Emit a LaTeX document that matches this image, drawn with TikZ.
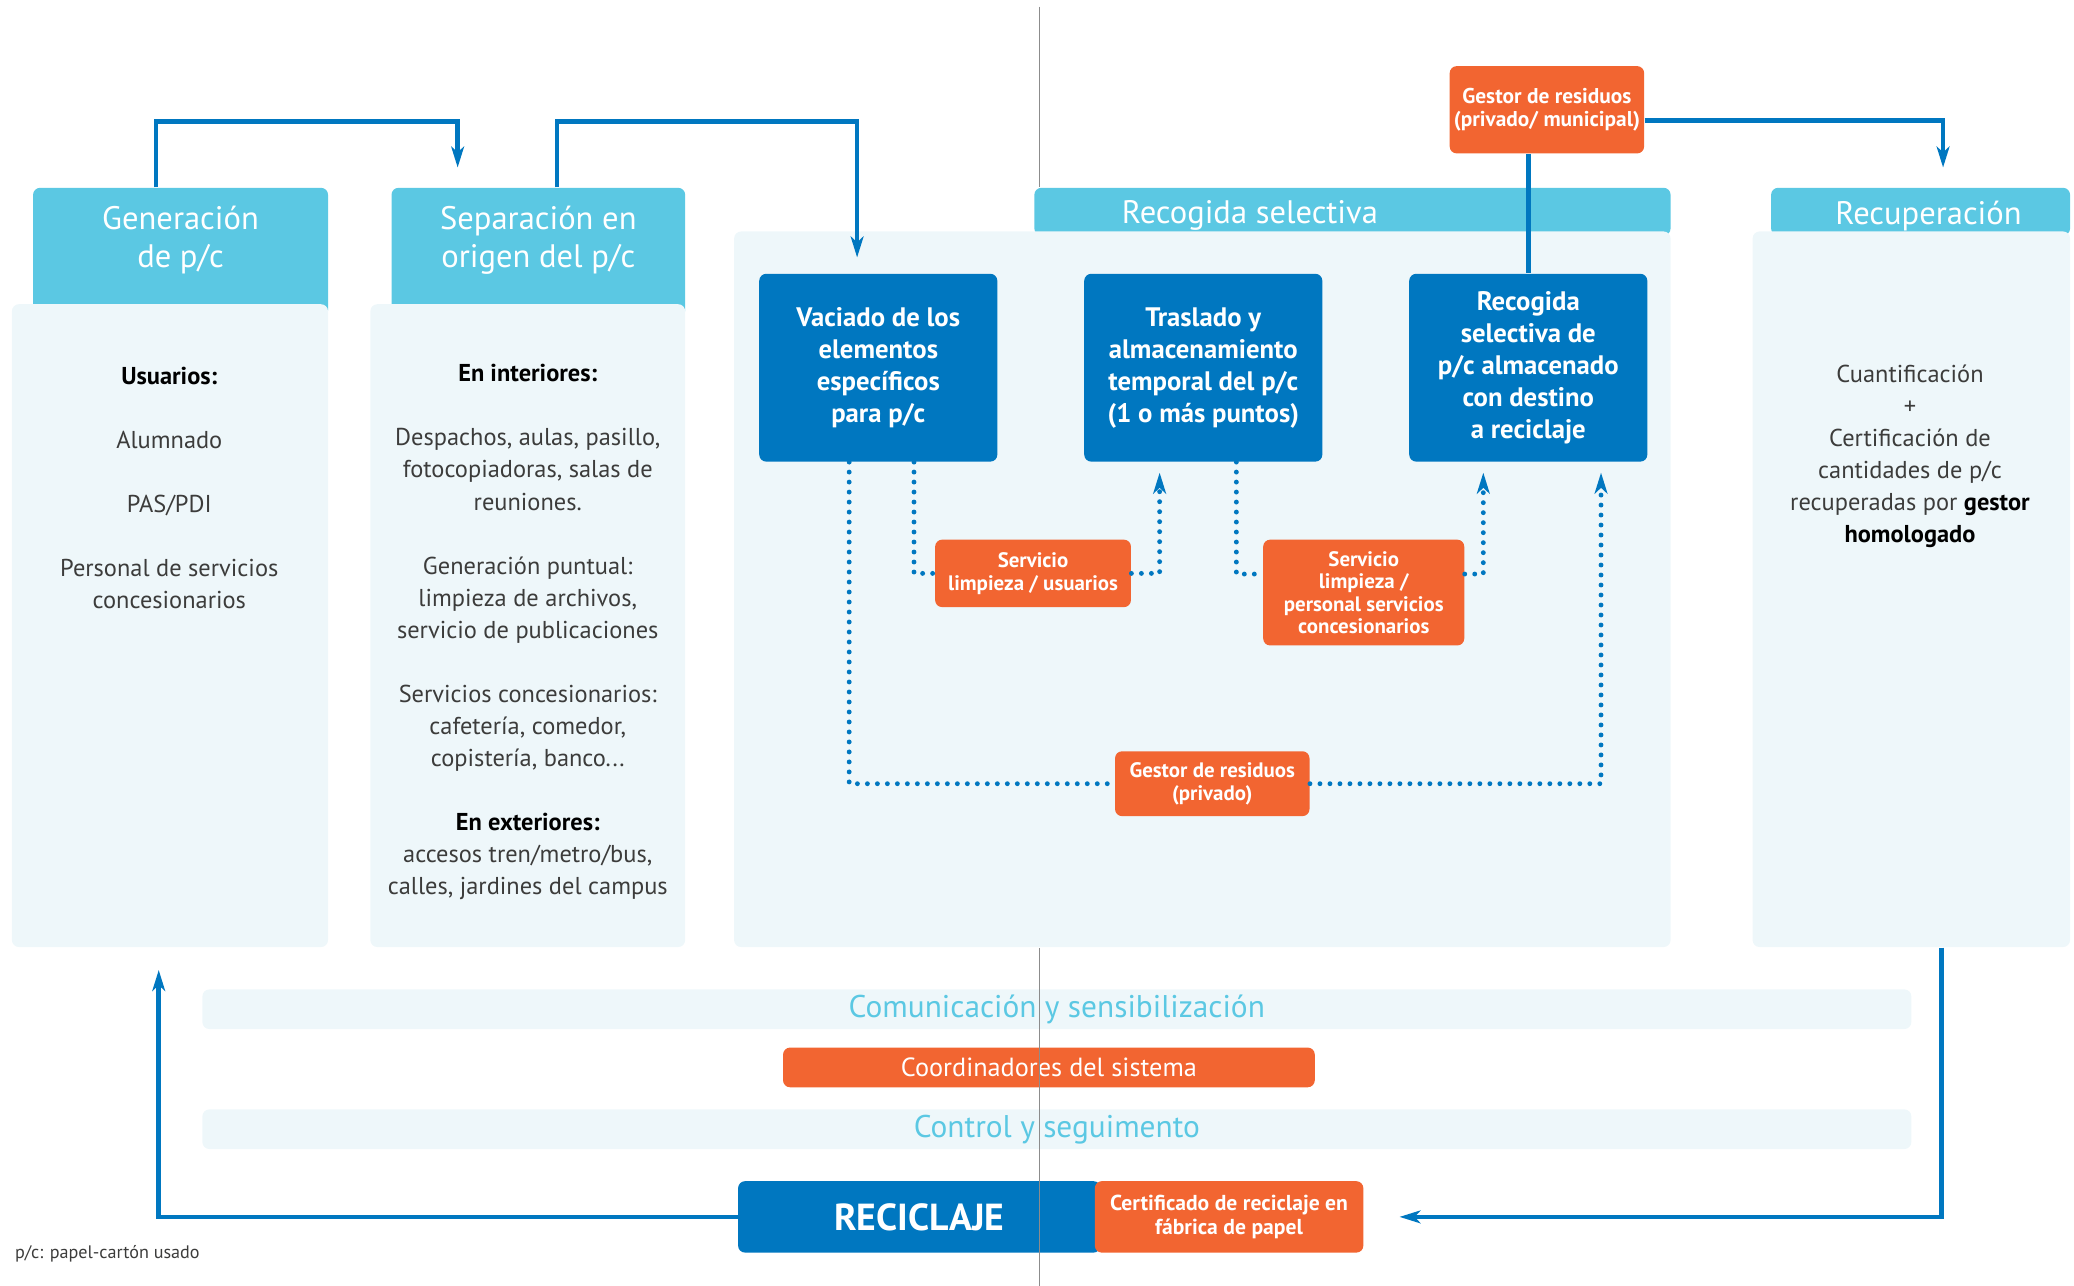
\documentclass[tikz,border=0pt]{standalone}
\usepackage{fontspec}
\setmainfont{PT Sans}
\usetikzlibrary{positioning, arrows.meta}
\definecolor{azul}{HTML}{0077C0}
\definecolor{celeste}{HTML}{5BC8E3}
\definecolor{fondo}{HTML}{EEF7FA}
\definecolor{naranja}{HTML}{F26531}
\definecolor{texto}{HTML}{3C3C3B}
\definecolor{eje}{HTML}{8C8C8C}

\begin{document}
\begin{tikzpicture}[>={Stealth[length=9pt, width=5.5pt, inset=2.5pt]}, font=\fontsize{10.5}{13.8}\selectfont,
  hdr/.style={fill=celeste, rounded corners=3pt, inner sep=0pt},
  hdrtxt/.style={text=white, align=center, font=\fontsize{14}{16.5}\selectfont},
  panel/.style={fill=fondo, rounded corners=3pt, inner sep=0pt},
  paneltxt/.style={text=texto, align=center},
  azulbox/.style={fill=azul, text=white, rounded corners=3pt, align=center, inner sep=0pt, minimum width=3.6cm, minimum height=2.84cm, font=\fontsize{11.5}{13.8}\selectfont\bfseries},
  naranjabox/.style={fill=naranja, text=white, rounded corners=3pt, align=center, inner sep=0pt, font=\fontsize{9}{9.7}\selectfont\bfseries},
  barra/.style={fill=fondo, rounded corners=3pt, text=celeste, inner sep=0pt, minimum width=25.84cm, minimum height=0.6cm, font=\fontsize{13.5}{16}\selectfont},
  flujo/.style={azul, line width=2pt, ->},
  puntos/.style={azul, line width=2.1pt, line cap=round, dash pattern=on 0pt off 4.3pt}]
  \useasboundingbox (0,0) rectangle (31.36,-19.44);
  \coordinate (ejesup) at (15.72,-0.1);
  \coordinate (ejeinf) at (15.72,-19.44);

  % Cabeceras
  \node[hdr, minimum width=4.46cm, minimum height=1.96cm] (genh) at (2.73,-3.82) {};
  \node[hdr, minimum width=4.44cm, minimum height=1.96cm] (seph) at (8.14,-3.82) {};
  \node[hdr, minimum width=9.62cm, minimum height=0.72cm] (rech) at (20.45,-3.2) {};
  \node[hdr, minimum width=4.52cm, minimum height=0.72cm] (recuh) at (29.04,-3.2) {};
  \draw[eje, line width=0.6pt] (ejesup) -- (ejesup |- rech.north);

  % Paneles
  \node[panel, minimum width=4.78cm, minimum height=9.72cm] (genb) at (2.57,-9.46) {};
  \node[panel, minimum width=4.76cm, minimum height=9.72cm] (sepb) at (7.98,-9.46) {};
  \node[panel, minimum width=14.16cm, minimum height=10.82cm] (recb) at (18.18,-8.91) {};
  \node[panel, minimum width=4.8cm, minimum height=10.82cm] (recub) at (28.9,-8.91) {};
  \node[hdrtxt] (genhtxt) at (2.73,-3.63) {Generación\\de p/c};
  \node[hdrtxt] (sephtxt) at (8.14,-3.63) {Separación en\\origen del p/c};
  \node[hdrtxt] (rechtxt) at (18.9,-3.26) {Recogida selectiva};
  \node[hdrtxt] (recuhtxt) at (29.16,-3.26) {Recuperación};

  \node[paneltxt] (gent) at (2.56,-7.38) {\textbf{\color{black}Usuarios:}\\[13.8pt] Alumnado\\[13.8pt] PAS/PDI\\[13.8pt] Personal de servicios\\concesionarios};
  \node[paneltxt] (sept) at (7.98,-9.56) {\textbf{\color{black}En interiores:}\\[13.8pt]
    Despachos, aulas, pasillo,\\fotocopiadoras, salas de\\reuniones.\\[13.8pt]
    Generación puntual:\\limpieza de archivos,\\servicio de publicaciones\\[13.8pt]
    Servicios concesionarios:\\cafetería, comedor,\\copistería, banco...\\[13.8pt]
    \textbf{\color{black}En exteriores:}\\accesos tren/metro/bus,\\calles, jardines del campus};
  \node[paneltxt] (recut) at (28.88,-6.9) {Cuantificación\\+\\Certificación de\\cantidades de p/c\\recuperadas por \textbf{\color{black}gestor}\\\textbf{\color{black}homologado}};

  % Recogida selectiva
  \node[azulbox] (vac) at (13.28,-5.56) {Vaciado de los\\elementos\\específicos\\para p/c};
  \node[azulbox, right=1.3cm of vac] (tras) {Traslado y\\almacenamiento\\temporal del p/c\\(1 o más puntos)};
  \node[azulbox, right=1.3cm of tras] (recog) {Recogida\\selectiva de\\p/c almacenado\\con destino\\a reciclaje};
  \node[naranjabox, minimum width=2.94cm, minimum height=1.32cm, font=\fontsize{9.2}{9.8}\selectfont\bfseries] (gesm) at (23.39,-1.66) {Gestor de residuos\\(privado/ municipal)};
  \node[naranjabox, minimum width=2.96cm, minimum height=1.02cm] (serv1) at (15.62,-8.67) {Servicio\\limpieza / usuarios};
  \node[naranjabox, minimum width=3.04cm, minimum height=1.6cm] (serv2) at (20.62,-8.96) {Servicio\\limpieza /\\personal servicios\\concesionarios};
  \node[naranjabox, minimum width=2.94cm, minimum height=0.98cm] (gespriv) at (18.33,-11.85) {Gestor de residuos\\(privado)};

  % Franjas inferiores
  \node[barra] (com) at (15.98,-15.26) {Comunicación y sensibilización};
  \node[naranjabox, minimum width=8.04cm, minimum height=0.6cm, font=\fontsize{11.3}{14}\selectfont] (coord) at (15.86,-16.14) {Coordinadores del sistema};
  \node[barra, below=1.2cm of com] (ctrl) {Control y seguimento};
  \node[fill=azul, text=white, rounded corners=3pt, inner sep=0pt, minimum width=5.48cm, minimum height=1.08cm, font=\fontsize{16.2}{20}\selectfont\bfseries] (recic) at (13.9,-18.4) {RECICLAJE};
  \node[naranjabox, right=-0.1cm of recic, minimum width=4.06cm, minimum height=1.08cm, font=\fontsize{9.3}{10.3}\selectfont\bfseries] (cert) {Certificado de reciclaje en\\fábrica de papel};
  \node[anchor=west, inner sep=0pt, text=texto, font=\fontsize{7.8}{9}\selectfont] (nota) at (0.22,-18.96) {p/c: papel-cartón usado};
  \draw[eje, line width=0.6pt] (ejeinf) -- (ejeinf |- recb.south);

  % Flujo principal
  \draw[flujo] ([xshift=-0.37cm]genh.north) -- ++(0,1) -| ([xshift=-1.22cm, yshift=0.3cm]seph.north);
  \draw[flujo] ([xshift=0.28cm]seph.north) -- ++(0,1) -| ([xshift=-0.32cm, yshift=0.24cm]vac.north);
  \draw[flujo, -] (recog.north |- gesm.south) -- (recog.north);
  \draw[flujo] ([yshift=-0.16cm]gesm.east) -| ([xshift=0.34cm, yshift=0.3cm]recuh.north);
  \draw[flujo] ([xshift=0.46cm]recub.south) |- ([xshift=0.54cm]cert.east);
  \draw[flujo] (recic.west) -| ([xshift=-0.17cm, yshift=-0.34cm]genb.south);

  % Circuitos punteados
  \draw[puntos] ([xshift=0.54cm]vac.south) |- (serv1.west);
  \draw[puntos, ->] (serv1.east) -| ([xshift=-0.66cm, yshift=-0.16cm]tras.south);
  \draw[puntos] ([xshift=0.5cm]tras.south) |- ([yshift=0.28cm]serv2.west);
  \draw[puntos, ->] ([yshift=0.28cm]serv2.east) -| ([xshift=-0.68cm, yshift=-0.16cm]recog.south);
  \draw[puntos] ([xshift=-0.44cm]vac.south) |- (gespriv.west);
  \draw[puntos, ->] (gespriv.east) -| ([xshift=1.1cm, yshift=-0.16cm]recog.south);
\end{tikzpicture}
\end{document}
